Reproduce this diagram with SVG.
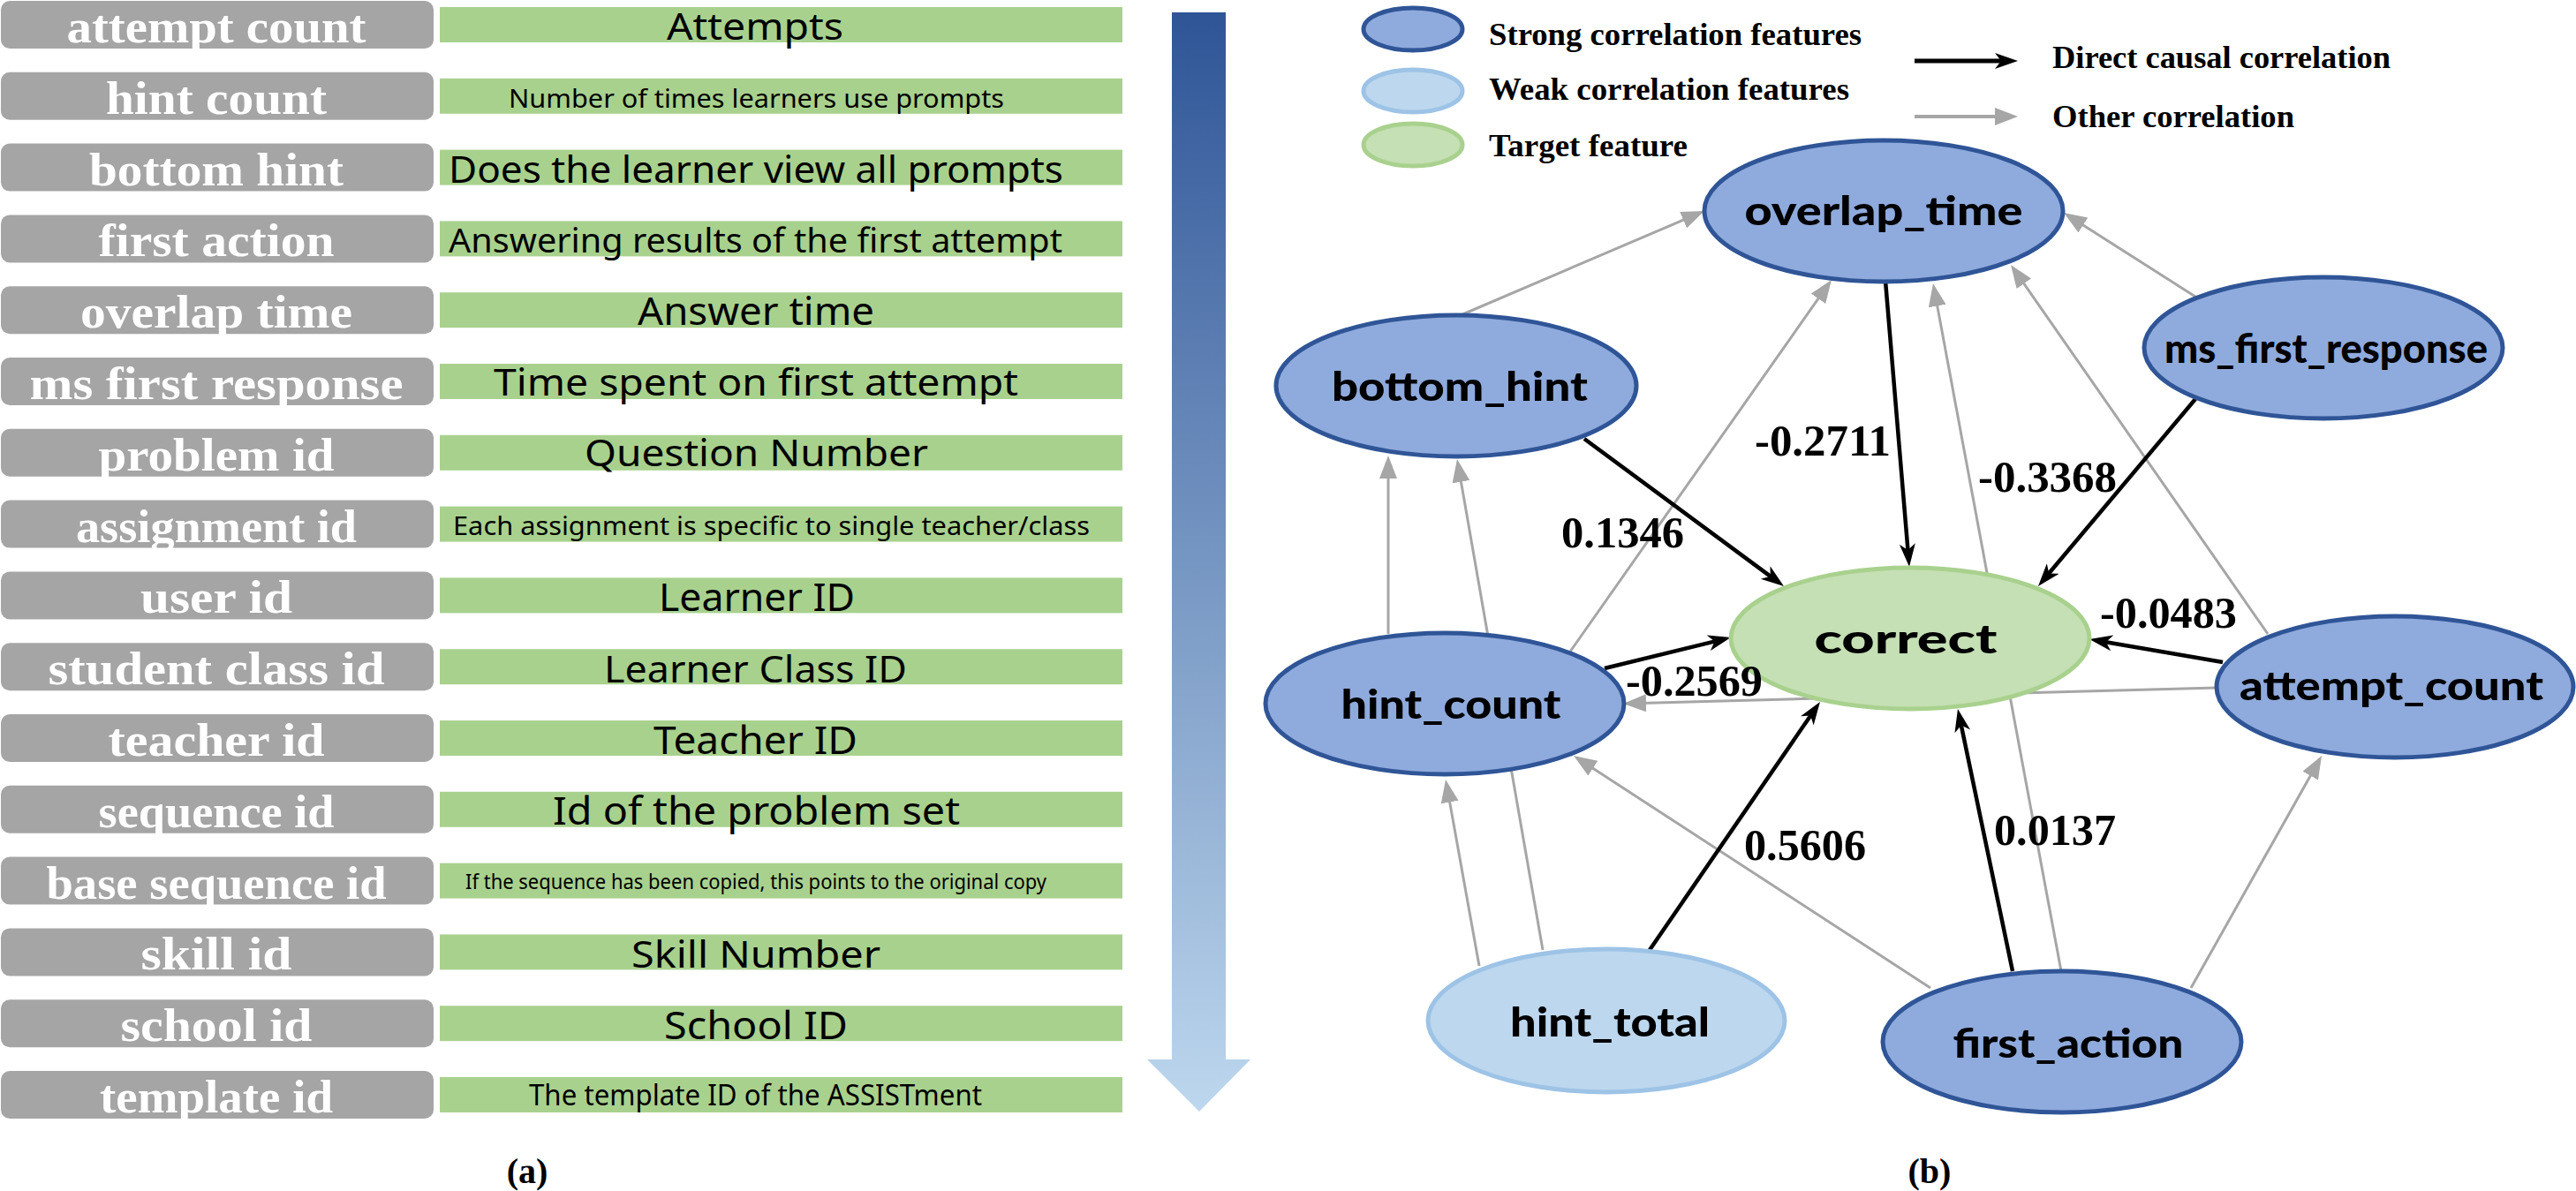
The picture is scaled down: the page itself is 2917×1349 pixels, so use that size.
<svg xmlns="http://www.w3.org/2000/svg" width="2917" height="1349" viewBox="0 0 2917 1349">
<style>
.gb{fill:#a5a5a5}
.gr{fill:#a9d18e}
.gl{font-family:"Liberation Serif","Times New Roman",serif;font-weight:bold;font-size:52px;fill:#fff;text-anchor:middle}
.dl{font-family:"Noto Sans","Open Sans",sans-serif;fill:#000}
.lg{font-family:"Liberation Serif","Times New Roman",serif;font-weight:bold;font-size:36px;fill:#000}
.el{font-family:"Liberation Serif","Times New Roman",serif;font-weight:bold;font-size:50px;fill:#000}
.nl{font-family:Lato,"Open Sans",sans-serif;font-weight:900;font-size:46px;fill:#000;text-anchor:middle}
.strong{fill:#8faadc;stroke:#2f5597;stroke-width:5}
.weak{fill:#bdd7ee;stroke:#9dc3e6;stroke-width:5}
.target{fill:#c5e0b4;stroke:#a9d18e;stroke-width:5}
.ce{stroke:#000;stroke-width:4.5;fill:none;marker-end:url(#ab)}
.oe{stroke:#a6a6a6;stroke-width:3;fill:none;marker-end:url(#ag)}
.cap{font-family:"Liberation Serif","Times New Roman",serif;font-weight:bold;font-size:40px;fill:#000;text-anchor:middle}
</style>
<defs>
<linearGradient id="grad" gradientUnits="userSpaceOnUse" x1="0" y1="14" x2="0" y2="1259">
<stop offset="0" stop-color="#2f5597"/>
<stop offset="1" stop-color="#bdd7ee"/>
</linearGradient>
<marker id="ab" markerUnits="userSpaceOnUse" markerWidth="30" markerHeight="20" refX="16" refY="9" orient="auto">
<path d="M0,0 L26,9 L0,18 L7,9 z" fill="#000"/>
</marker>
<marker id="ag" markerUnits="userSpaceOnUse" markerWidth="30" markerHeight="22" refX="16" refY="10" orient="auto">
<path d="M0,0 L26,10 L0,20 z" fill="#a6a6a6"/>
</marker>
</defs>
<rect width="2917" height="1349" fill="#fff"/>

<g id="feature-table">
<rect class="gb" x="1" y="1" width="490" height="54" rx="10"/>
<rect class="gb" x="1" y="81.8" width="490" height="54" rx="10"/>
<rect class="gb" x="1" y="162.6" width="490" height="54" rx="10"/>
<rect class="gb" x="1" y="243.4" width="490" height="54" rx="10"/>
<rect class="gb" x="1" y="324.2" width="490" height="54" rx="10"/>
<rect class="gb" x="1" y="405" width="490" height="54" rx="10"/>
<rect class="gb" x="1" y="485.8" width="490" height="54" rx="10"/>
<rect class="gb" x="1" y="566.6" width="490" height="54" rx="10"/>
<rect class="gb" x="1" y="647.4" width="490" height="54" rx="10"/>
<rect class="gb" x="1" y="728.2" width="490" height="54" rx="10"/>
<rect class="gb" x="1" y="809" width="490" height="54" rx="10"/>
<rect class="gb" x="1" y="889.8" width="490" height="54" rx="10"/>
<rect class="gb" x="1" y="970.6" width="490" height="54" rx="10"/>
<rect class="gb" x="1" y="1051.4" width="490" height="54" rx="10"/>
<rect class="gb" x="1" y="1132.2" width="490" height="54" rx="10"/>
<rect class="gb" x="1" y="1213" width="490" height="54" rx="10"/>

<text class="gl" x="245" y="48" textLength="339" lengthAdjust="spacingAndGlyphs">attempt count</text>
<text class="gl" x="245" y="128.8" textLength="250" lengthAdjust="spacingAndGlyphs">hint count</text>
<text class="gl" x="245" y="209.6" textLength="288" lengthAdjust="spacingAndGlyphs">bottom hint</text>
<text class="gl" x="245" y="290.4" textLength="267" lengthAdjust="spacingAndGlyphs">first action</text>
<text class="gl" x="245" y="371.2" textLength="308" lengthAdjust="spacingAndGlyphs">overlap time</text>
<text class="gl" x="245" y="452" textLength="423" lengthAdjust="spacingAndGlyphs">ms first response</text>
<text class="gl" x="245" y="532.8" textLength="267" lengthAdjust="spacingAndGlyphs">problem id</text>
<text class="gl" x="245" y="613.6" textLength="318" lengthAdjust="spacingAndGlyphs">assignment id</text>
<text class="gl" x="245" y="694.4" textLength="172" lengthAdjust="spacingAndGlyphs">user id</text>
<text class="gl" x="245" y="775.2" textLength="381" lengthAdjust="spacingAndGlyphs">student class id</text>
<text class="gl" x="245" y="856" textLength="245" lengthAdjust="spacingAndGlyphs">teacher id</text>
<text class="gl" x="245" y="936.8" textLength="267" lengthAdjust="spacingAndGlyphs">sequence id</text>
<text class="gl" x="245" y="1017.6" textLength="385" lengthAdjust="spacingAndGlyphs">base sequence id</text>
<text class="gl" x="245" y="1098.4" textLength="171" lengthAdjust="spacingAndGlyphs">skill id</text>
<text class="gl" x="245" y="1179.2" textLength="217" lengthAdjust="spacingAndGlyphs">school id</text>
<text class="gl" x="245" y="1260" textLength="264" lengthAdjust="spacingAndGlyphs">template id</text>

<rect class="gr" x="498" y="8" width="773" height="40"/>
<rect class="gr" x="498" y="88.8" width="773" height="40"/>
<rect class="gr" x="498" y="169.6" width="773" height="40"/>
<rect class="gr" x="498" y="250.4" width="773" height="40"/>
<rect class="gr" x="498" y="331.2" width="773" height="40"/>
<rect class="gr" x="498" y="412" width="773" height="40"/>
<rect class="gr" x="498" y="492.8" width="773" height="40"/>
<rect class="gr" x="498" y="573.6" width="773" height="40"/>
<rect class="gr" x="498" y="654.4" width="773" height="40"/>
<rect class="gr" x="498" y="735.2" width="773" height="40"/>
<rect class="gr" x="498" y="816" width="773" height="40"/>
<rect class="gr" x="498" y="896.8" width="773" height="40"/>
<rect class="gr" x="498" y="977.6" width="773" height="40"/>
<rect class="gr" x="498" y="1058.4" width="773" height="40"/>
<rect class="gr" x="498" y="1139.2" width="773" height="40"/>
<rect class="gr" x="498" y="1220" width="773" height="40"/>

<text class="dl" x="755" y="45" font-size="42" textLength="200" lengthAdjust="spacingAndGlyphs">Attempts</text>
<text class="dl" x="576" y="122" font-size="29" textLength="561" lengthAdjust="spacingAndGlyphs">Number of times learners use prompts</text>
<text class="dl" x="508" y="207" font-size="42" textLength="696" lengthAdjust="spacingAndGlyphs">Does the learner view all prompts</text>
<text class="dl" x="508" y="286" font-size="38" textLength="695" lengthAdjust="spacingAndGlyphs">Answering results of the first attempt</text>
<text class="dl" x="722" y="368" font-size="43" textLength="268" lengthAdjust="spacingAndGlyphs">Answer time</text>
<text class="dl" x="559" y="448" font-size="41" textLength="594" lengthAdjust="spacingAndGlyphs">Time spent on first attempt</text>
<text class="dl" x="662" y="528" font-size="41" textLength="389" lengthAdjust="spacingAndGlyphs">Question Number</text>
<text class="dl" x="513" y="606" font-size="29" textLength="721" lengthAdjust="spacingAndGlyphs">Each assignment is specific to single teacher/class</text>
<text class="dl" x="746" y="692" font-size="43" textLength="222" lengthAdjust="spacingAndGlyphs">Learner ID</text>
<text class="dl" x="684" y="773" font-size="41" textLength="343" lengthAdjust="spacingAndGlyphs">Learner Class ID</text>
<text class="dl" x="740" y="854" font-size="44" textLength="231" lengthAdjust="spacingAndGlyphs">Teacher ID</text>
<text class="dl" x="626" y="934" font-size="43" textLength="461" lengthAdjust="spacingAndGlyphs">Id of the problem set</text>
<text class="dl" x="527" y="1007" font-size="24" textLength="658" lengthAdjust="spacingAndGlyphs">If the sequence has been copied, this points to the original copy</text>
<text class="dl" x="715" y="1096" font-size="41" textLength="282" lengthAdjust="spacingAndGlyphs">Skill Number</text>
<text class="dl" x="752" y="1177" font-size="43" textLength="208" lengthAdjust="spacingAndGlyphs">School ID</text>
<text class="dl" x="599" y="1252" font-size="32" textLength="513" lengthAdjust="spacingAndGlyphs">The template ID of the ASSISTment</text>
</g>

<g id="importance-arrow">
<rect x="1327" y="14" width="61" height="1187" fill="url(#grad)"/>
<polygon points="1299,1200 1416,1200 1358,1259" fill="url(#grad)"/>
</g>

<g id="legend">
<ellipse class="strong" cx="1600" cy="33" rx="56" ry="24"/>
<ellipse class="weak" cx="1600" cy="103" rx="56" ry="24"/>
<ellipse class="target" cx="1600" cy="164" rx="56" ry="24"/>
<text class="lg" x="1686" y="51" textLength="422" lengthAdjust="spacingAndGlyphs">Strong correlation features</text>
<text class="lg" x="1686" y="113" textLength="408" lengthAdjust="spacingAndGlyphs">Weak correlation features</text>
<text class="lg" x="1686" y="177" textLength="225" lengthAdjust="spacingAndGlyphs">Target feature</text>
<line x1="2168" y1="69" x2="2275" y2="69" stroke="#000" stroke-width="5" marker-end="url(#ab)"/>
<line x1="2168" y1="132" x2="2275" y2="132" stroke="#a6a6a6" stroke-width="4" marker-end="url(#ag)"/>
<text class="lg" x="2324" y="77" textLength="383" lengthAdjust="spacingAndGlyphs">Direct causal correlation</text>
<text class="lg" x="2324" y="144" textLength="274" lengthAdjust="spacingAndGlyphs">Other correlation</text>
</g>

<g id="connectors">
<line class="oe" x1="1654" y1="357" x2="1920.8" y2="242.9"/>
<line class="oe" x1="1778" y1="738" x2="2068.2" y2="325.2"/>
<line class="oe" x1="1572" y1="718" x2="1572" y2="526"/>
<line class="oe" x1="1747" y1="1076" x2="1651.7" y2="529.9"/>
<line class="oe" x1="2486" y1="336" x2="2345.4" y2="246.4"/>
<line class="oe" x1="2568" y1="718" x2="2282.7" y2="308.2"/>
<line class="oe" x1="2334" y1="1100" x2="2190.8" y2="330.8"/>
<line class="oe" x1="2510" y1="779" x2="1848" y2="796.7"/>
<line class="oe" x1="2186" y1="1119" x2="1790.4" y2="861.5"/>
<line class="oe" x1="1675" y1="1094" x2="1638.8" y2="892.8"/>
<line class="oe" x1="2481" y1="1119" x2="2624.1" y2="864.7"/>

<line class="ce" x1="2135" y1="318" x2="2161.2" y2="632"/>
<line class="ce" x1="1794" y1="497" x2="2012" y2="658.1"/>
<line class="ce" x1="2486" y1="452" x2="2314.4" y2="656.3"/>
<line class="ce" x1="2517" y1="750" x2="2375.9" y2="725.7"/>
<line class="ce" x1="1817" y1="757" x2="1950.3" y2="724.4"/>
<line class="ce" x1="1868" y1="1076" x2="2055.3" y2="803.2"/>
<line class="ce" x1="2279" y1="1100" x2="2219" y2="812.8"/>
</g>

<g id="node-overlap_time"><ellipse class="strong" cx="2133" cy="239" rx="203" ry="80"/><text class="nl" x="2133" y="255" textLength="315" lengthAdjust="spacingAndGlyphs">overlap_time</text></g>
<g id="node-bottom_hint"><ellipse class="strong" cx="1649" cy="437" rx="204" ry="80"/><text class="nl" x="1653" y="454" textLength="290" lengthAdjust="spacingAndGlyphs">bottom_hint</text></g>
<g id="node-ms_first_response"><ellipse class="strong" cx="2631" cy="394" rx="203" ry="80"/><text class="nl" x="2634" y="411" font-size="38" textLength="366" lengthAdjust="spacingAndGlyphs">ms_first_response</text></g>
<g id="node-hint_count"><ellipse class="strong" cx="1636" cy="797" rx="203" ry="80"/><text class="nl" x="1643" y="814" textLength="249" lengthAdjust="spacingAndGlyphs">hint_count</text></g>
<g id="node-attempt_count"><ellipse class="strong" cx="2712" cy="778" rx="202" ry="80"/><text class="nl" x="2708" y="793" textLength="344" lengthAdjust="spacingAndGlyphs">attempt_count</text></g>
<g id="node-hint_total"><ellipse class="weak" cx="1819" cy="1156" rx="202" ry="81"/><text class="nl" x="1823" y="1174" textLength="226" lengthAdjust="spacingAndGlyphs">hint_total</text></g>
<g id="node-first_action"><ellipse class="strong" cx="2335" cy="1180" rx="203" ry="80"/><text class="nl" x="2342" y="1198" textLength="261" lengthAdjust="spacingAndGlyphs">first_action</text></g>
<g id="node-correct"><ellipse class="target" cx="2163" cy="723" rx="203" ry="80"/><text class="nl" x="2158" y="740" font-size="58" textLength="207" lengthAdjust="spacingAndGlyphs">correct</text></g>

<g id="edge-labels">
<text class="el" x="1987" y="516" textLength="154" lengthAdjust="spacingAndGlyphs">-0.2711</text>
<text class="el" x="2240" y="557" textLength="157" lengthAdjust="spacingAndGlyphs">-0.3368</text>
<text class="el" x="1768" y="620" textLength="139" lengthAdjust="spacingAndGlyphs">0.1346</text>
<text class="el" x="2378" y="711" textLength="155" lengthAdjust="spacingAndGlyphs">-0.0483</text>
<text class="el" x="1841" y="788" textLength="155" lengthAdjust="spacingAndGlyphs">-0.2569</text>
<text class="el" x="1975" y="974" textLength="138" lengthAdjust="spacingAndGlyphs">0.5606</text>
<text class="el" x="2258" y="957" textLength="138" lengthAdjust="spacingAndGlyphs">0.0137</text>
</g>

<text class="cap" x="597" y="1340">(a)</text>
<text class="cap" x="2185" y="1340">(b)</text>
</svg>
